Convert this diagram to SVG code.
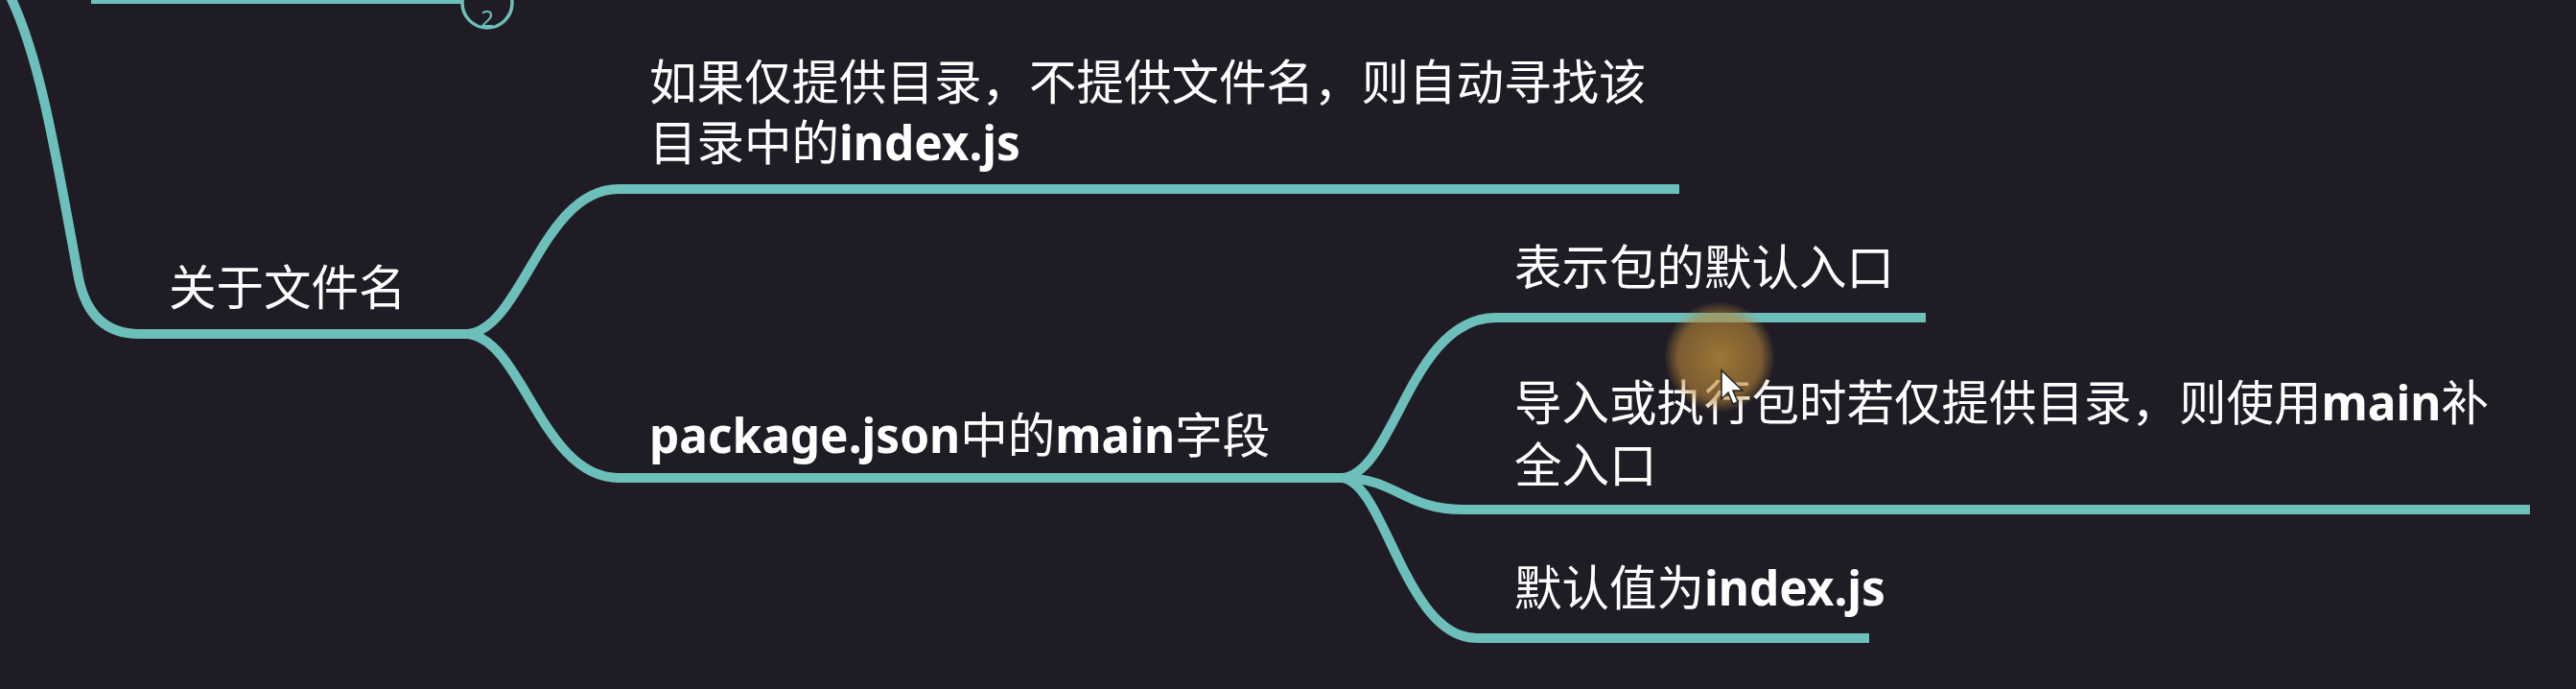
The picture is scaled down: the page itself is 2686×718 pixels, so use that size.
<svg xmlns="http://www.w3.org/2000/svg" width="2686" height="718" viewBox="0 0 2686 718">
<defs>
<style>
.bg{fill:#1f1c25}
.edge{fill:none;stroke:#6cbfba;stroke-width:10;stroke-linecap:butt}
.t{font-family:"Noto Sans","Noto Sans CJK SC",sans-serif;font-size:49.5px;fill:#ffffff;font-weight:400}
.b{font-weight:700}
</style>
<radialGradient id="glow" cx="0.5" cy="0.5" r="0.5">
<stop offset="0" stop-color="#c8943c" stop-opacity="0.75"/>
<stop offset="0.75" stop-color="#b8863a" stop-opacity="0.6"/>
<stop offset="1" stop-color="#b8863a" stop-opacity="0"/>
</radialGradient>
</defs>
<rect class="bg" x="0" y="0" width="2686" height="718"/>
<g id="connectors">
<path class="edge" d="M95 -1 L482 -1"/>
<path class="edge" d="M10 -5 C42 60 58 160 82 290 Q94 348 145 348 L488 348"/>
<path class="edge" d="M488 348 C545 342 565 197 645 197 L1751 197"/>
<path class="edge" d="M488 348 C545 354 565 498 645 498 L1400 498"/>
<path class="edge" d="M1400 498 C1455 492 1470 331 1560 331 L2008 331"/>
<path class="edge" d="M1400 498 C1455 498 1465 531 1525 531 L2638 531"/>
<path class="edge" d="M1400 498 C1445 505 1465 665 1540 665 L1949 665"/>
</g>
<g id="collapse-2">
<circle cx="508" cy="3" r="26" fill="#1f1c25" stroke="#6cbfba" stroke-width="3.5"/>
<text x="508" y="28" text-anchor="middle" style="font-family:'Noto Sans',sans-serif;font-size:24px;fill:#6cbfba">2</text>
</g>
<g id="node-filename">
<text class="t" x="176" y="318">关于文件名</text>
</g>
<g id="node-dir">
<text class="t" x="677" y="104">如果仅提供目录，不提供文件名，则自动寻找该</text>
<text class="t" x="677" y="167">目录中的<tspan class="b">index.js</tspan></text>
</g>
<g id="node-main">
<text class="t" x="677" y="472"><tspan class="b">package.json</tspan>中的<tspan class="b">main</tspan>字段</text>
</g>
<g id="node-entry">
<text class="t" x="1579" y="297">表示包的默认入口</text>
</g>
<g id="node-import">
<text class="t" x="1579" y="438">导入或执行包时若仅提供目录，则使用<tspan class="b">main</tspan>补</text>
<text class="t" x="1579" y="503">全入口</text>
</g>
<g id="node-default">
<text class="t" x="1579" y="631">默认值为<tspan class="b">index.js</tspan></text>
</g>
<g id="cursor">
<circle cx="1793" cy="372" r="58" fill="url(#glow)"/>
<path d="M1795 386 L1795 416 L1802 409 L1807 421 L1812 419 L1807 407 L1817 407 Z" fill="#ffffff" stroke="#222" stroke-width="1.5"/>
</g>
</svg>
